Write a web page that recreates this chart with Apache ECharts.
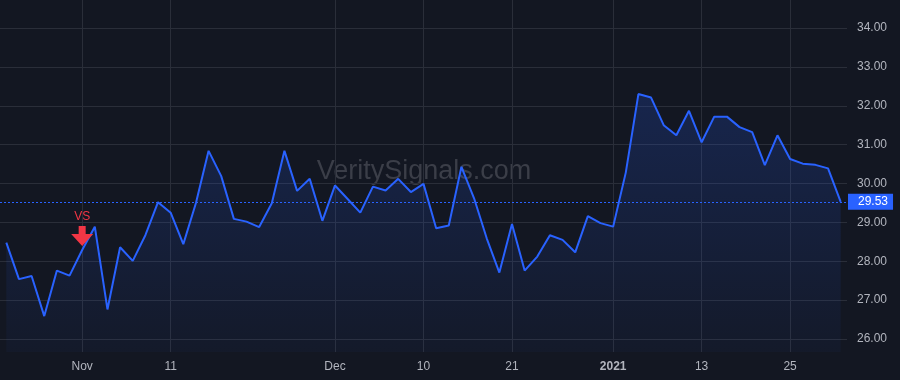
<!DOCTYPE html>
<html>
<head>
<meta charset="utf-8">
<script src="https://cdn.jsdelivr.net/npm/echarts@6/dist/echarts.min.js"></script>
<style>
html,body{margin:0;padding:0;background:#131722;}
#chart{width:900px;height:380px;}
</style>
</head>
<body>
<div id="chart"></div>
<script>
// Trading days (categories)
const dates = [
  '2020-10-23','2020-10-26','2020-10-27','2020-10-28','2020-10-29','2020-10-30',
  '2020-11-02','2020-11-03','2020-11-04','2020-11-05','2020-11-06','2020-11-09','2020-11-10','2020-11-11','2020-11-12','2020-11-13',
  '2020-11-16','2020-11-17','2020-11-18','2020-11-19','2020-11-20','2020-11-23','2020-11-24','2020-11-25','2020-11-27','2020-11-30',
  '2020-12-01','2020-12-02','2020-12-03','2020-12-04','2020-12-07','2020-12-08','2020-12-09','2020-12-10','2020-12-11',
  '2020-12-14','2020-12-15','2020-12-16','2020-12-17','2020-12-18','2020-12-21','2020-12-22','2020-12-23','2020-12-24',
  '2020-12-28','2020-12-29','2020-12-30','2020-12-31',
  '2021-01-04','2021-01-05','2021-01-06','2021-01-07','2021-01-08','2021-01-11','2021-01-12','2021-01-13','2021-01-14','2021-01-15',
  '2021-01-19','2021-01-20','2021-01-21','2021-01-22','2021-01-25','2021-01-26','2021-01-27','2021-01-28','2021-01-29'
];
// Close prices
const prices = [
  28.48, 27.54, 27.62, 26.59, 27.76, 27.63,
  28.29, 28.89, 26.76, 28.36, 28.01, 28.67, 29.52, 29.25, 28.44, 29.50,
  30.84, 30.19, 29.09, 29.02, 28.88, 29.49, 30.84, 29.81, 30.12, 29.04,
  29.95, 29.60, 29.25, 29.92, 29.82, 30.12, 29.78, 29.99, 28.85,
  28.92, 30.43, 29.62, 28.59, 27.71, 28.96, 27.76, 28.12, 28.67,
  28.55, 28.23, 29.16, 28.98,
  28.89, 30.28, 32.30, 32.21, 31.50, 31.24, 31.87, 31.06, 31.72, 31.72,
  31.45, 31.32, 30.47, 31.24, 30.63, 30.51, 30.48, 30.39, 29.53
];
// Time-axis tick labels
const tickDates = ['2020-11-02','2020-11-11','2020-12-01','2020-12-10','2020-12-21','2021-01-04','2021-01-13','2021-01-25'];
const tickLabels = ['Nov','11','Dec','10','21','2021','13','25'];
const yearTicks = ['2021'];
// Price axis labels
const priceTicks = [26, 27, 28, 29, 30, 31, 32, 33, 34];
// Signals
const signalDates = ['2020-11-02'];
const signalLabels = ['VS'];

const BG = '#131722';
const GRID = '#2a2e39';
const TEXT = '#b2b5be';
const LINE = '#2962ff';
const RED = '#f23645';
const FONT = '"Liberation Sans", Arial, sans-serif';

const lastPrice = prices[prices.length - 1];
const isTick = (i, v) => tickDates.indexOf(v) >= 0;

const chart = echarts.init(document.getElementById('chart'), null, {renderer: 'canvas'});
chart.setOption({
  backgroundColor: BG,
  animation: false,
  textStyle: {fontFamily: FONT},
  graphic: [{
    type: 'text', z: 0, silent: true,
    style: {text: 'VeritySignals.com', x: 424, y: 172, align: 'center', verticalAlign: 'middle',
            textAlign: 'center', textVerticalAlign: 'middle', fill: '#3b3e48', font: '27px ' + FONT}
  }],
  grid: [
    {left: 0, right: 53, top: 0, bottom: 28},
    {left: 0, right: 53, top: 28, bottom: 41}
  ],
  xAxis: [
    {
      type: 'category', gridIndex: 0, data: dates, boundaryGap: true,
      axisLine: {show: false}, axisTick: {show: false},
      axisLabel: {
        interval: isTick, margin: 9, color: TEXT, fontSize: 12, fontFamily: FONT,
        formatter: v => {
          const l = tickLabels[tickDates.indexOf(v)];
          return yearTicks.indexOf(l) >= 0 ? '{b|' + l + '}' : l;
        },
        rich: {b: {fontWeight: 'bold', color: TEXT, fontSize: 12, fontFamily: FONT}}
      },
      splitLine: {show: true, interval: isTick, alignWithLabel: true, lineStyle: {color: GRID, width: 1}}
    },
    {type: 'category', gridIndex: 1, data: dates, show: false}
  ],
  yAxis: [
    {type: 'value', gridIndex: 0, min: 25.666, max: 34.72, show: false},
    {
      type: 'value', gridIndex: 1, position: 'right', min: priceTicks[0], max: priceTicks[priceTicks.length - 1], interval: 1,
      axisLine: {show: false}, axisTick: {show: false},
      axisLabel: {color: TEXT, fontSize: 12, margin: 10, fontFamily: FONT, formatter: v => v.toFixed(2)},
      splitLine: {show: true, lineStyle: {color: GRID, width: 1}}
    }
  ],
  series: [{
    type: 'line', xAxisIndex: 0, yAxisIndex: 0, data: prices,
    showSymbol: false, symbol: 'none',
    lineStyle: {color: LINE, width: 2},
    areaStyle: {
      origin: 'start',
      color: new echarts.graphic.LinearGradient(0, 0, 0, 1, [
        {offset: 0, color: 'rgba(41,98,255,0.28)'},
        {offset: 1, color: 'rgba(41,98,255,0.05)'}
      ])
    },
    markLine: {
      silent: true, symbol: 'none',
      lineStyle: {color: LINE, width: 1, type: [2, 2]},
      label: {
        show: true, position: 'end', distance: 1,
        formatter: p => p.value.toFixed(2),
        color: '#ffffff', backgroundColor: LINE, fontSize: 12, fontFamily: FONT,
        padding: [2, 5, 2, 10]
      },
      data: [{yAxis: lastPrice}]
    },
    markPoint: {
      silent: true,
      symbol: 'path://M7.5,0 L14.5,0 L14.5,8 L22,8 L11,20 L0,8 L7.5,8 Z',
      symbolSize: [22, 20],
      symbolOffset: [0, -14],
      itemStyle: {color: RED},
      label: {show: true, position: 'top', distance: 3, color: RED, fontSize: 12, fontFamily: FONT, formatter: p => p.name},
      data: signalDates.map((d, k) => ({name: signalLabels[k], coord: [d, prices[dates.indexOf(d)]]}))
    }
  }]
});
</script>
</body>
</html>
